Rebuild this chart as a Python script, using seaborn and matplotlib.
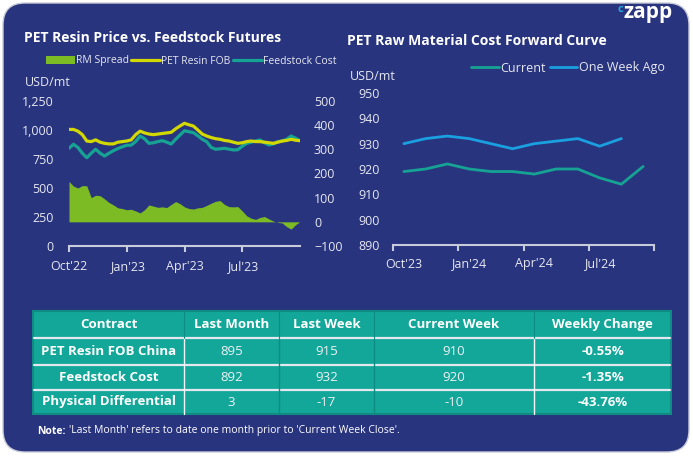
import pandas as pd
import seaborn as sns
import matplotlib.pyplot as plt
from matplotlib.patches import FancyBboxPatch, Rectangle, Patch
from matplotlib.lines import Line2D

sns.set_style("white")
plt.rcParams['font.family'] = ['Open Sans', 'DejaVu Sans']

NAVY = "#29347F"
GREEN = "#7DBB24"
YELLOW = "#D2D800"
TEAL = "#16A393"
BLUE = "#1AA0E0"
TICK = "#E6E8F0"
AXLINE = "#C8CCDA"
CELL = "#13A79A"
CELL_DARK = "#0E8C82"

# ---- left chart data (weekly) ----
weeks = pd.date_range("2022-10-01", periods=53, freq="7D")
pet_fob = [1005, 1005, 990, 960, 905, 900, 915, 895, 885, 880, 880, 895, 900, 905,
           915, 960, 990, 975, 965, 960, 965, 970, 975, 980, 1010, 1035, 1058, 1045,
           1034, 1000, 965, 948, 935, 925, 920, 910, 905, 895, 885, 890, 900, 905,
           900, 900, 895, 890, 885, 895, 905, 910, 920, 912, 908]
feedstock = [842, 877, 850, 800, 761, 800, 834, 800, 776, 800, 822, 840, 855, 868,
             870, 900, 948, 925, 885, 890, 900, 908, 895, 879, 920, 957, 994, 985,
             977, 950, 920, 899, 850, 834, 838, 842, 835, 828, 830, 860, 885, 895,
             905, 914, 890, 871, 880, 899, 905, 920, 948, 930, 908]
rm_spread = [167, 148, 140, 150, 149, 100, 110, 108, 95, 80, 70, 58, 55, 50, 52, 45,
             37, 50, 70, 65, 60, 62, 59, 72, 84, 75, 62, 55, 53, 58, 60, 68, 77, 85,
             88, 72, 63, 62, 63, 45, 25, 15, 10, 18, 22, 12, 3, -2, -5, -20, -30, -12, 1]
left_ticks = ["2022-10-01", "2023-01-01", "2023-04-01", "2023-07-01"]

# ---- right chart data ----
curve_months = ["Oct'23", "Nov'23", "Dec'23", "Jan'24", "Feb'24", "Mar'24",
                "Apr'24", "May'24", "Jun'24", "Jul'24", "Aug'24", "Sep'24"]
current = [919, 920, 922, 920, 919, 919, 918, 920, 920, 916.5, 914, 921]
week_ago = [930, 932, 933, 932, 930, 928, 930, 931, 932, 929, 932, None]

# ---- table ----
tbl_header = ["Contract", "Last Month", "Last Week", "Current Week", "Weekly Change"]
tbl_contracts = ["PET Resin FOB China", "Feedstock Cost", "Physical Differential"]
tbl_last_month = ["895", "892", "3"]
tbl_last_week = ["915", "932", "-17"]
tbl_current = ["910", "920", "-10"]
tbl_change = ["-0.55%", "-1.35%", "-43.76%"]

W, H = 693, 457
fig = plt.figure(figsize=(W / 100, H / 100), dpi=100)

bg = fig.add_axes([0, 0, 1, 1], zorder=0)
bg.set_xlim(0, W)
bg.set_ylim(H, 0)
bg.axis("off")
bg.add_patch(FancyBboxPatch((3, 3), 686, 449, boxstyle="round,pad=0,rounding_size=22",
                            fc=NAVY, ec="#C9CCD8", lw=1))

# titles / labels
bg.text(24, 38, "PET Resin Price vs. Feedstock Futures", color="white", fontsize=10,
        fontweight="bold", va="center")
bg.text(347, 41, "PET Raw Material Cost Forward Curve", color="white", fontsize=10,
        fontweight="bold", va="center")
bg.text(25, 83, "USD/mt", color=TICK, fontsize=9, va="center")
bg.text(350, 76, "USD/mt", color=TICK, fontsize=9, va="center")
bg.text(618, 12, "c", color="#2AA8E0", fontsize=8, fontweight="bold", va="baseline")
bg.text(623, 18, "zapp", color="white", fontsize=15, fontweight="bold", va="baseline")

# ---- left chart ----
ax1 = fig.add_axes([69 / W, 1 - 246 / H, 231 / W, 145 / H], zorder=2)
ax1.set_facecolor("none")
ax2 = ax1.twinx()
ax2.fill_between(weeks, 0, rm_spread, color=GREEN, lw=0)
sns.lineplot(x=weeks, y=feedstock, ax=ax1, color=TEAL, lw=2.3)
sns.lineplot(x=weeks, y=pet_fob, ax=ax1, color=YELLOW, lw=2.3)
ax1.set_ylim(0, 1250)
ax1.set_yticks([0, 250, 500, 750, 1000, 1250])
ax1.set_yticklabels(["0", "250", "500", "750", "1,000", "1,250"])
ax2.set_ylim(-100, 500)
ax2.set_yticks(range(-100, 501, 100))
ax1.set_xlim(weeks[0], weeks[-1])
ax1.set_xticks(pd.to_datetime(left_ticks))
ax1.set_xticklabels(["Oct'22", "Jan'23", "Apr'23", "Jul'23"])
for a in (ax1, ax2):
    for s in a.spines.values():
        s.set_visible(False)
    a.set_xlabel("")
    a.set_ylabel("")
ax1.spines["bottom"].set_visible(True)
ax1.spines["bottom"].set_color(AXLINE)
ax1.spines["bottom"].set_linewidth(1.5)
ax1.tick_params(axis="y", left=False, length=0, labelsize=9, labelcolor=TICK, pad=11)
ax2.tick_params(axis="y", right=False, length=0, labelsize=9, labelcolor=TICK, pad=10)
ax1.tick_params(axis="x", bottom=True, direction="out", length=4, width=1.5,
                color=AXLINE, labelsize=9, labelcolor=TICK, pad=6)

leg1 = [Patch(fc=GREEN, ec="none", label="RM Spread"),
        Line2D([], [], color=YELLOW, lw=2.3, label="PET Resin FOB"),
        Line2D([], [], color=TEAL, lw=2.3, label="Feedstock Cost")]
fig.legend(handles=leg1, loc="center", bbox_to_anchor=(191 / W, 1 - 61 / H), ncol=3,
           frameon=False, fontsize=7.5, labelcolor=TICK, handlelength=2.8,
           handletextpad=0.1, columnspacing=0.2, handleheight=0.8)

# ---- right chart ----
ax3 = fig.add_axes([393 / W, 1 - 245 / H, 261 / W, 152 / H], zorder=2)
ax3.set_facecolor("none")
pos = list(range(len(curve_months)))
sns.lineplot(x=pos, y=current, ax=ax3, color=TEAL, lw=2)
sns.lineplot(x=pos, y=[v if v is not None else float("nan") for v in week_ago],
             ax=ax3, color=BLUE, lw=2)
ax3.set_ylim(890, 950)
ax3.set_yticks(range(890, 951, 10))
ax3.set_xlim(-0.5, 11.5)
ax3.set_xticks([-0.5, 2.5, 5.5, 8.5, 11.5])
ax3.set_xticklabels([])
ax3.set_xticks([0, 3, 6, 9], minor=True)
ax3.set_xticklabels([curve_months[i] for i in (0, 3, 6, 9)], minor=True)
for s in ax3.spines.values():
    s.set_visible(False)
ax3.spines["bottom"].set_visible(True)
ax3.spines["bottom"].set_color(AXLINE)
ax3.spines["bottom"].set_linewidth(1.5)
ax3.tick_params(axis="y", left=False, length=0, labelsize=9, labelcolor=TICK, pad=9.5)
ax3.tick_params(axis="x", which="major", bottom=True, direction="out", length=4,
                width=1.5, color=AXLINE)
ax3.tick_params(axis="x", which="minor", bottom=True, length=0, labelsize=9,
                labelcolor=TICK, pad=9)
ax3.set_xlabel("")
ax3.set_ylabel("")

leg2 = [Line2D([], [], color=TEAL, lw=2, label="Current"),
        Line2D([], [], color=BLUE, lw=2, label="One Week Ago")]
fig.legend(handles=leg2, loc="center", bbox_to_anchor=(568 / W, 1 - 68 / H), ncol=2,
           frameon=False, fontsize=9, labelcolor=TICK, handlelength=2.2,
           handletextpad=0.15, columnspacing=0.3)

# ---- table ----
col_x = [33, 184, 279, 374, 534, 671]
row_y = [311, 338, 365, 390, 414]
bg.add_patch(Rectangle((col_x[0], row_y[0]), col_x[-1] - col_x[0], row_y[-1] - row_y[0],
                       fc=CELL, ec=CELL_DARK, lw=1.5))
for y in row_y[1:-1]:
    bg.plot([col_x[0] + 1, col_x[-1] - 1], [y, y], color="#E4E8EE", lw=1.6)
for i, x in enumerate(col_x[1:-1]):
    bg.plot([x, x], [row_y[0], row_y[1]], color=CELL_DARK, lw=0.8)
    c = "#F2F4F7" if i in (0, 3) else CELL_DARK
    bg.plot([x, x], [row_y[1] + 1, row_y[-1]], color=c, lw=1.0)

cols = [tbl_contracts, tbl_last_month, tbl_last_week, tbl_current, tbl_change]
for j in range(5):
    cx = (col_x[j] + col_x[j + 1]) / 2
    bg.text(cx, (row_y[0] + row_y[1]) / 2, tbl_header[j], color="white", fontsize=9.5,
            fontweight="bold", ha="center", va="center")
    for r in range(3):
        bold = j in (0, 4)
        bg.text(cx, (row_y[r + 1] + row_y[r + 2]) / 2, cols[j][r],
                color="white" if bold else "#EEF2F4", fontsize=9.5,
                fontweight="bold" if bold else "normal", ha="center", va="center")

bg.text(37, 431, "Note:", color="white", fontsize=7.5, fontweight="bold", va="center")
bg.text(69, 431, "'Last Month' refers to date one month prior to 'Current Week Close'.",
        color="white", fontsize=7.5, va="center")

fig.savefig("out.png", dpi=100)
